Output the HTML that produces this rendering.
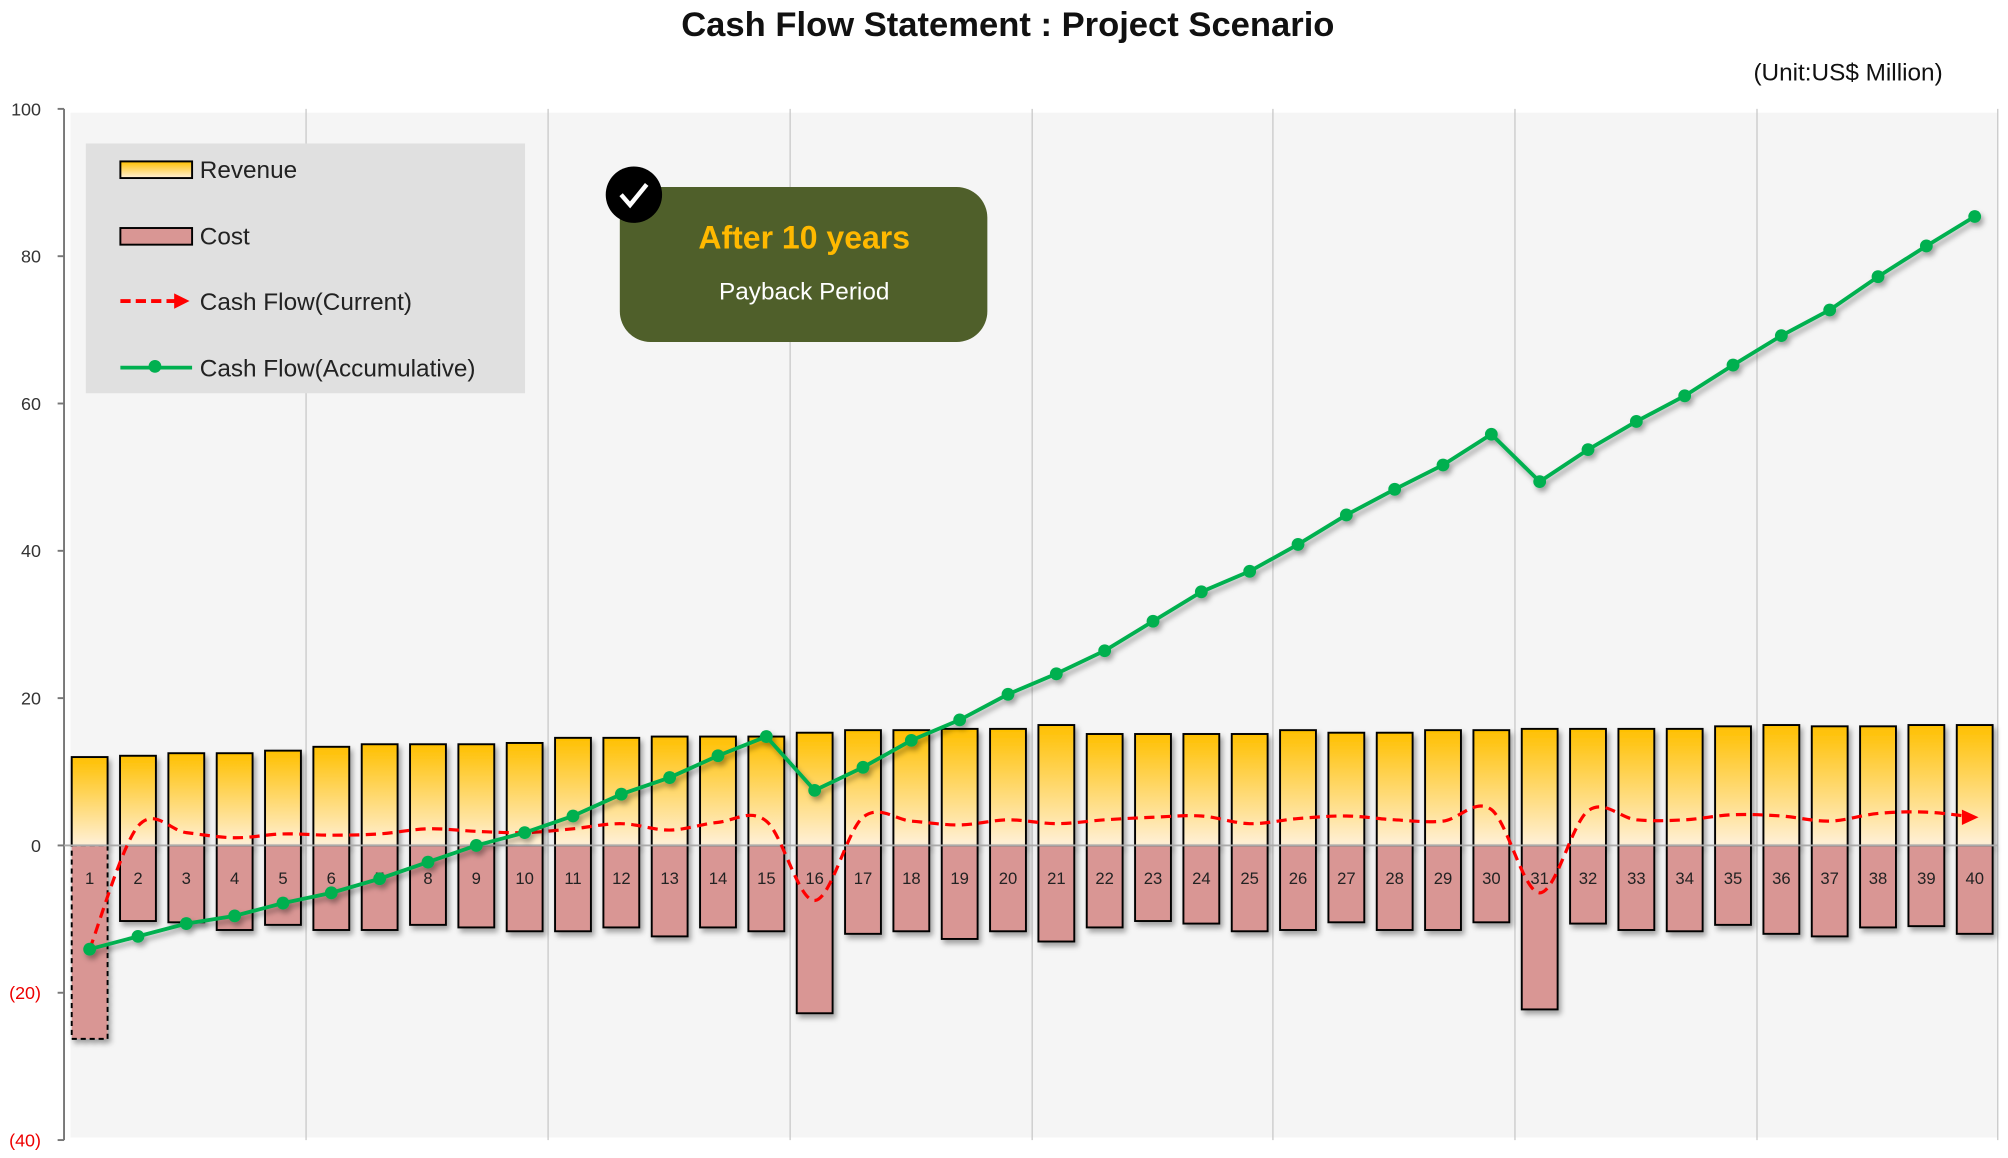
<!DOCTYPE html>
<html><head><meta charset="utf-8"><style>
html,body{margin:0;padding:0;background:#fff;}
svg{display:block;font-family:"Liberation Sans","DejaVu Sans",sans-serif;}
</style></head><body>
<svg id="c" width="2008" height="1158" viewBox="0 0 1568 904" preserveAspectRatio="none" xmlns="http://www.w3.org/2000/svg">
<defs>
<linearGradient id="rev" x1="0" y1="0" x2="0" y2="1"><stop offset="0" stop-color="#ffc000"/><stop offset="1" stop-color="#fff0d8"/></linearGradient>
<filter id="sh" x="-20%" y="-20%" width="150%" height="150%"><feDropShadow dx="2" dy="3" stdDeviation="2" flood-color="#000" flood-opacity="0.35"/></filter>
</defs>
<rect x="55" y="88" width="1505" height="800" fill="#f5f5f5"/>
<g id="grid" stroke="#c8c8c8" stroke-width="1"></g>
<text x="787" y="28" text-anchor="middle" font-size="27" font-weight="bold" fill="#111">Cash Flow Statement : Project Scenario</text>
<text x="1517" y="63" text-anchor="end" font-size="19" fill="#111">(Unit:US$ Million)</text>
<line x1="50" y1="85" x2="50" y2="890" stroke="#777" stroke-width="1.5"/>
<g id="ticks" font-size="14"></g>
<g id="bars"></g>
<line x1="50" y1="660" x2="1560" y2="660" stroke="#aaa" stroke-width="1.5"/>
<g id="labels" font-size="13" fill="#222" text-anchor="middle"></g>
<path id="red" fill="none" stroke="#ff0000" stroke-width="2.5" stroke-dasharray="8,5"/>
<polygon points="1532,632 1545,638 1532,644" fill="#ff0000"/>
<g id="green" filter="url(#sh)"></g>
<rect x="67" y="112" width="343" height="195" fill="#e0e0e0"/>
<rect x="94" y="126" width="56" height="13" fill="url(#rev)" stroke="#000" stroke-width="1.5"/>
<text x="156" y="139" font-size="19" fill="#222">Revenue</text>
<rect x="94" y="178" width="56" height="13" fill="#d99694" stroke="#000" stroke-width="1.5"/>
<text x="156" y="191" font-size="19" fill="#222">Cost</text>
<line x1="94" y1="235" x2="138" y2="235" stroke="#f00" stroke-width="3" stroke-dasharray="8,4"/>
<polygon points="136,229 148,235 136,241" fill="#f00"/>
<text x="156" y="242" font-size="19" fill="#222">Cash Flow(Current)</text>
<line x1="94" y1="287" x2="150" y2="287" stroke="#00b050" stroke-width="3"/>
<circle cx="121" cy="286" r="5" fill="#00b050"/>
<text x="156" y="294" font-size="19" fill="#222">Cash Flow(Accumulative)</text>
<rect x="484" y="146" width="287" height="121" rx="24" fill="#4f5f2a"/>
<text x="628" y="194" text-anchor="middle" font-size="25" font-weight="bold" fill="#ffb900">After 10 years</text>
<text x="628" y="234" text-anchor="middle" font-size="19" fill="#fff">Payback Period</text>
<circle cx="495" cy="152" r="22" fill="#000"/>
<polyline points="485,152 492,160 505,144" fill="none" stroke="#fff" stroke-width="3.5"/>
</svg>
<script>
var NS="http://www.w3.org/2000/svg";
function el(p,t,a){var e=document.createElementNS(NS,t);for(var k in a)e.setAttribute(k,a[k]);p.appendChild(e);return e;}
var g=document.getElementById('grid');
[239,428,617,806,994,1183,1372,1560].forEach(function(x){el(g,'line',{x1:x,y1:85,x2:x,y2:890});});
var tk=document.getElementById('ticks');
[[100,85],[80,200],[60,315],[40,430],[20,545],[0,660],["(20)",775],["(40)",890]].forEach(function(t){
 var neg=typeof t[0]==="string";
 var e=el(tk,'text',{x:32,y:t[1]+5,'text-anchor':'end',fill:neg?'#e00':'#333'});e.textContent=t[0];
 el(tk,'line',{x1:45,y1:t[1],x2:50,y2:t[1],stroke:'#777','stroke-width':1.5});
});
var rev=[591,590,588,588,586,583,581,581,581,580,576,576,575,575,575,572,570,570,569,569,566,573,573,573,573,570,572,572,570,570,569,569,569,569,567,566,567,567,566,566];
var cost=[811,719,720,726,722,726,726,722,724,727,727,724,731,724,727,791,729,727,733,727,735,724,719,721,727,726,720,726,726,720,788,721,726,727,722,729,731,724,723,729];
var acc=[741,731,721,715,705,697,686,673,660,650,637,620,607,590,575,617,599,578,562,542,526,508,485,462,446,425,402,382,363,339,376,351,329,309,285,262,242,216,192,169];
var cur=[741,645,650,654,651,652,651,647,649,650,647,643,648,642,641,703,638,641,644,640,643,640,638,637,643,639,637,640,641,632,697,633,640,640,636,637,641,635,634,638];
var b=document.getElementById('bars'),lb=document.getElementById('labels');
function X(i){return 70+i*(1542-70)/39;}
for(var i=0;i<40;i++){
 var x=X(i)-14;
 el(b,'rect',{x:x,y:rev[i],width:28,height:660-rev[i],fill:'url(#rev)',stroke:'#000','stroke-width':1.5,filter:'url(#sh)'});
 var a={x:x,y:660,width:28,height:cost[i]-660,fill:'#d99694',stroke:'#000','stroke-width':1.5,filter:'url(#sh)'};
 if(i==0)a['stroke-dasharray']='4,3';
 el(b,'rect',a);
 var t=el(lb,'text',{x:X(i),y:690});t.textContent=i+1;
}
var d="M"+X(0)+","+cur[0];
for(var i=0;i<39;i++){
 var p0=[X(Math.max(i-1,0)),cur[Math.max(i-1,0)]],p1=[X(i),cur[i]],p2=[X(i+1),cur[i+1]],p3=[X(Math.min(i+2,39)),cur[Math.min(i+2,39)]];
 var c1=[p1[0]+(p2[0]-p0[0])/6,p1[1]+(p2[1]-p0[1])/6],c2=[p2[0]-(p3[0]-p1[0])/6,p2[1]-(p3[1]-p1[1])/6];
 d+=" C"+c1+" "+c2+" "+p2;
}
document.getElementById('red').setAttribute('d',d);
var gr=document.getElementById('green');
el(gr,'polyline',{points:acc.map(function(y,i){return X(i)+","+y;}).join(" "),fill:'none',stroke:'#00b050','stroke-width':3});
acc.forEach(function(y,i){el(gr,'circle',{cx:X(i),cy:y,r:5,fill:'#00b050'});});
</script>
</body></html>
